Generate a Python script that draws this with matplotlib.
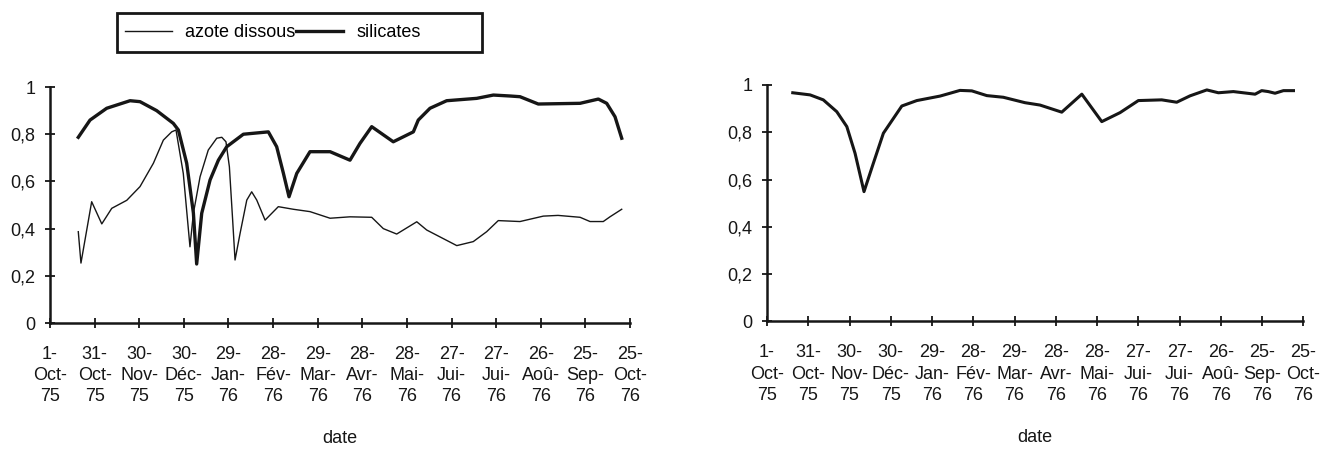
import numpy as np
import matplotlib.pyplot as plt
from matplotlib.patches import Rectangle

plt.rcParams['font.family'] = ['Liberation Sans', 'DejaVu Sans']

# x axis is in days counted from 1-Oct-75, major ticks every 30 days
tick_days = np.arange(0, 391, 30)
tick_labels = ["1-\nOct-\n75", "31-\nOct-\n75", "30-\nNov-\n75", "30-\nDéc-\n75",
               "29-\nJan-\n76", "28-\nFév-\n76", "29-\nMar-\n76", "28-\nAvr-\n76",
               "28-\nMai-\n76", "27-\nJui-\n76", "27-\nJui-\n76", "26-\nAoû-\n76",
               "25-\nSep-\n76", "25-\nOct-\n76"]
y_ticks = [0, 0.2, 0.4, 0.6, 0.8, 1]
y_labels = ["0", "0,2", "0,4", "0,6", "0,8", "1"]

azote_days = [19.0, 20.8, 28.0, 34.8, 41.5, 51.6, 60.5, 69.5, 76.2, 81.8, 84.7, 89.6,
              94.1, 96.4, 100.9, 106.4, 112.1, 115.5, 118.3, 120.6, 122.8, 124.4, 127.8,
              132.3, 135.6, 139.0, 144.6, 153.5, 163.6, 174.8, 188.3, 201.7, 216.3,
              224.1, 233.1, 246.6, 253.3, 273.5, 284.6, 293.6, 301.4, 316.0, 331.7,
              341.6, 356.4, 363.1, 372.0, 376.5, 384.4]
azote = [0.387, 0.254, 0.514, 0.42, 0.486, 0.52, 0.578, 0.677, 0.775, 0.81, 0.818, 0.634,
         0.323, 0.465, 0.62, 0.733, 0.783, 0.787, 0.768, 0.662, 0.436, 0.267, 0.38,
         0.521, 0.556, 0.521, 0.436, 0.493, 0.482, 0.472, 0.444, 0.45, 0.448,
         0.40, 0.377, 0.429, 0.394, 0.328, 0.345, 0.387, 0.434, 0.43, 0.453,
         0.456, 0.448, 0.43, 0.43, 0.45, 0.482]

silic_days = [19.0, 26.9, 38.1, 53.8, 60.5, 71.7, 82.9, 86.3, 91.9, 96.4, 98.6, 102.0,
              107.6, 113.2, 118.8, 130.0, 146.8, 152.4, 156.9, 160.7, 165.9, 174.8,
              188.3, 201.7, 208.4, 216.3, 230.8, 244.3, 247.6, 255.5, 266.7, 286.9,
              298.1, 309.3, 316.0, 328.3, 356.4, 368.7, 374.3, 379.9, 384.4]
silic = [0.787, 0.86, 0.91, 0.942, 0.938, 0.90, 0.846, 0.818, 0.677, 0.466, 0.25, 0.465,
         0.606, 0.69, 0.747, 0.80, 0.81, 0.747, 0.635, 0.535, 0.634, 0.726,
         0.726, 0.69, 0.761, 0.832, 0.768, 0.81, 0.86, 0.91, 0.942, 0.952,
         0.966, 0.962, 0.959, 0.928, 0.931, 0.949, 0.931, 0.874, 0.783]

r_days = [18.7, 31.3, 40.9, 50.7, 58.0, 64.0, 70.5, 77.3, 84.6, 98.0, 108.9, 125.8,
          133.1, 140.3, 148.9, 159.8, 171.8, 187.6, 198.5, 214.3, 228.9, 243.4, 256.7,
          270.0, 287.0, 297.9, 307.6, 319.8, 328.2, 339.1, 354.9, 359.7, 364.5, 369.4,
          375.5, 382.8]
r_vals = [0.967, 0.958, 0.937, 0.887, 0.824, 0.711, 0.549, 0.669, 0.796, 0.911, 0.934, 0.953,
          0.965, 0.977, 0.975, 0.955, 0.948, 0.925, 0.915, 0.885, 0.961, 0.845, 0.883,
          0.934, 0.937, 0.927, 0.954, 0.979, 0.967, 0.972, 0.961, 0.976, 0.972, 0.965,
          0.976, 0.976]

ink = "#161616"


def style_axis(ax):
    ax.set_xlim(0, 390)
    ax.set_ylim(0, 1)
    for s in ["top", "right"]:
        ax.spines[s].set_visible(False)
    for s in ["left", "bottom"]:
        ax.spines[s].set_linewidth(1.8)
        ax.spines[s].set_color(ink)
    ax.set_xticks(tick_days)
    ax.set_xticklabels(tick_labels, linespacing=1.32)
    ax.set_yticks(y_ticks)
    ax.set_yticklabels(y_labels)
    ax.tick_params(axis="both", direction="inout", length=7, width=1.3, colors=ink,
                   labelsize=13, labelcolor=ink)
    ax.tick_params(axis="x", pad=13)
    ax.tick_params(axis="y", pad=7)
    ax.set_xlabel("date", fontsize=13, color=ink, labelpad=18)


fig = plt.figure(figsize=(13.2, 4.5), dpi=100)
ax1 = fig.add_axes([0.0379, 0.2822, 0.4394, 0.5244])
ax2 = fig.add_axes([0.5811, 0.2856, 0.4063, 0.5256])

l1, = ax1.plot(azote_days, azote, color=ink, lw=1.0, label="azote dissous")
l2, = ax1.plot(silic_days, silic, color=ink, lw=2.4, label="silicates")
style_axis(ax1)

ax2.plot(r_days, r_vals, color=ink, lw=2.2)
style_axis(ax2)

# legend entries without frame, boxed by a plain rectangle
fig.legend(handles=[l1, l2], loc="center left", bbox_to_anchor=(0.0947, 0.927), ncol=2,
           fontsize=13, frameon=False, handlelength=2.6, handletextpad=0.75,
           columnspacing=0.0, borderpad=0.0, borderaxespad=0.0)
fig.patches.append(Rectangle((0.0886, 0.8844), 0.2765, 0.0867, transform=fig.transFigure,
                             fill=False, edgecolor=ink, linewidth=2.0))

fig.savefig("out.png", dpi=100)
